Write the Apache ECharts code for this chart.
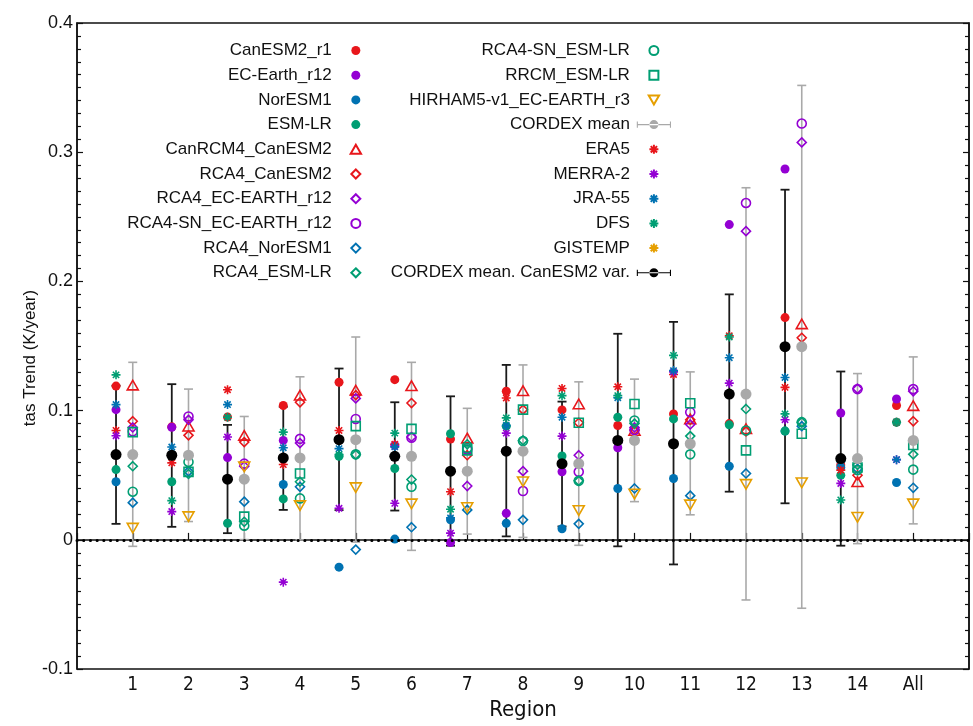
<!DOCTYPE html>
<html>
<head>
<meta charset="utf-8">
<script src="https://cdn.jsdelivr.net/npm/echarts@6/dist/echarts.min.js"></script>
<style>
html, body { margin: 0; padding: 0; background: #fff; }
#chart-01 { width: 973px; height: 726px; }
</style>
</head>
<body>
<div id="chart-01"></div>
<script>
// regions 1..14 + All
var regions = ['1', '2', '3', '4', '5', '6', '7', '8', '9', '10', '11', '12', '13', '14', 'All'];

// GCMs (left column)
var canesm2 = [0.119, 0.0875, 0.095, 0.104, 0.122, 0.124, 0.078, 0.115, 0.1006, 0.0885, 0.0975, 0.090, 0.172, 0.058, 0.104];
var ecearth = [0.1008, 0.0872, 0.0637, 0.077, 0.0775, 0.073, -0.002, 0.0206, 0.0527, 0.0713, 0.0744, 0.244, 0.287, 0.0982, 0.109];
var noresm1 = [0.045, 0.066, 0.047, 0.0429, -0.0211, 0.0006, 0.0155, 0.0129, 0.0086, 0.0398, 0.0475, 0.057, 0.0842, 0.056, 0.0444];
var esmlr = [0.0544, 0.045, 0.0129, 0.0317, 0.0647, 0.0552, 0.0821, 0.088, 0.0649, 0.0949, 0.0936, 0.089, 0.0842, 0.050, 0.091];

// RCMs (right column)
var canrcm4 = [0.1198, 0.088, 0.0809, 0.112, 0.1159, 0.1193, 0.0788, 0.1154, 0.1052, 0.0847, 0.0936, 0.086, 0.1672, 0.045, 0.1039];
var rca4Can = [0.0918, 0.0809, 0.0757, 0.1065, 0.112, 0.1059, 0.0655, 0.1008, 0.0906, 0.085, 0.093, 0.084, 0.1564, 0.050, 0.0918];
var rca4Ec = [0.087, 0.0929, 0.057, 0.0749, 0.1095, 0.0796, 0.0417, 0.0532, 0.0655, 0.087, 0.0893, 0.2389, 0.3076, 0.117, 0.115];
var rca4snEc = [0.084, 0.0955, 0.059, 0.0782, 0.0936, 0.079, 0.070, 0.0378, 0.0527, 0.085, 0.0988, 0.2607, 0.3222, 0.1167, 0.1167];
var rca4Nor = [0.0288, 0.053, 0.0296, 0.0411, -0.0075, 0.0098, 0.0232, 0.0155, 0.0124, 0.0398, 0.0342, 0.0514, 0.088, 0.055, 0.0403];
var rca4Esm = [0.057, 0.051, 0.014, 0.045, 0.066, 0.0467, 0.074, 0.077, 0.0457, 0.090, 0.0803, 0.1013, 0.0911, 0.058, 0.0662];
var rca4snEsm = [0.0373, 0.0603, 0.011, 0.0321, 0.0662, 0.0411, 0.071, 0.0765, 0.0457, 0.0924, 0.0662, 0.0847, 0.0911, 0.054, 0.0544];
var rrcmEsm = [0.0834, 0.0526, 0.018, 0.0514, 0.088, 0.0859, 0.0693, 0.1008, 0.0906, 0.1052, 0.1057, 0.0693, 0.0821, 0.056, 0.0734];
var hirham = [0.0091, 0.018, 0.0565, 0.0265, 0.0404, 0.0278, 0.025, 0.045, 0.0227, 0.0355, 0.0271, 0.0429, 0.0442, 0.0175, 0.0278];

// reanalyses / observations (left column)
var era5 = [0.0847, 0.0596, 0.1162, 0.0583, 0.0847, 0.074, 0.0373, 0.1098, 0.1172, 0.1185, 0.128, 0.158, 0.118, 0.054, 0.0911];
var merra2 = [0.0806, 0.0219, 0.0796, -0.0327, 0.0245, 0.0283, 0.0052, 0.0826, 0.0803, 0.075, 0.130, 0.1213, 0.093, 0.0437, 0.0621];
var jra55 = [0.1047, 0.0719, 0.1047, 0.0713, 0.0706, 0.072, 0.017, 0.0885, 0.0949, 0.110, 0.131, 0.141, 0.1257, 0.0605, 0.0621];
var dfs = [0.1277, 0.0304, 0.0949, 0.0834, 0.066, 0.0826, 0.0237, 0.0944, 0.1116, 0.1116, 0.1428, 0.157, 0.0975, 0.0309, 0.0911];
var gistemp = [null, null, null, null, null, null, null, null, null, null, null, null, null, null, null];

// CORDEX mean (grey, right column) with range
var cordexMean = [0.066, 0.0655, 0.047, 0.0634, 0.0775, 0.0647, 0.0532, 0.0686, 0.059, 0.077, 0.0744, 0.1128, 0.1495, 0.0629, 0.077];
var cordexLow = [-0.005, 0.0142, 0.0002, 0.000, -0.0017, -0.0081, 0.0045, 0.0019, -0.0042, 0.0296, 0.0194, -0.0465, -0.0529, -0.0029, 0.0124];
var cordexHigh = [0.1374, 0.1167, 0.0955, 0.1262, 0.157, 0.1374, 0.1018, 0.1354, 0.1223, 0.1244, 0.130, 0.2725, 0.3517, 0.1287, 0.1416];

// CORDEX mean, CanESM2 variability (black, left column)
var canVarMean = [0.066, 0.0655, 0.047, 0.0634, 0.0775, 0.0647, 0.0532, 0.0686, 0.059, 0.077, 0.0744, 0.1128, 0.1495, 0.0629, null];
var canVarLow = [0.0124, 0.0101, 0.0052, 0.0232, 0.023, 0.0227, -0.0045, 0.0027, 0.0104, -0.005, -0.019, 0.0373, 0.0283, -0.0045, null];
var canVarHigh = [0.1193, 0.1205, 0.089, 0.103, 0.1326, 0.1065, 0.1111, 0.1354, 0.107, 0.1595, 0.1687, 0.190, 0.271, 0.1303, null];

var RED = '#e8161b', PURPLE = '#9400d3', BLUE = '#0072b2', GREEN = '#009e73', ORANGE = '#e69f00', GREY = '#a9a9a9';
var LEFT = -0.3, RIGHT = 0;
// marker shapes as paths so the legend keeps their aspect
var STAR = 'path://M5,0L5,10M0,5L10,5M1.5,1.5L8.5,8.5M1.5,8.5L8.5,1.5';
var UP = 'path://M5,0L10,8.7L0,8.7Z';
var DOWN = 'path://M0,0L10,0L5,8.7Z';
var DIAMOND = 'path://M5,0L10,5L5,10L0,5Z';
var SQUARE = 'path://M0,0L10,0L10,10L0,10Z';
var RING = 'path://M0,5a5,5 0 1,0 10,0a5,5 0 1,0 -10,0Z';
var BAR_ICON = 'path://M0,4.4h38v1.2h-38zM0,1.5h1.2v7h-1.2zM36.8,1.5h1.2v7h-1.2zM14,5a5,5 0 1,0 10,0a5,5 0 1,0 -10,0z';

function pts(arr, dx) {
    var out = [];
    arr.forEach(function (v, i) {
        if (v != null) out.push([i + 1 + dx, v]);
    });
    return out;
}

function filled(name, arr, color, size, dx) {
    return {
        name: name, type: 'scatter', symbol: 'circle', symbolSize: size,
        itemStyle: { color: color, opacity: 1 },
        data: pts(arr, dx)
    };
}

function open(name, arr, color, symbol, size, dx) {
    return {
        name: name, type: 'scatter', symbol: symbol, symbolSize: size, symbolKeepAspect: true,
        itemStyle: { color: 'rgba(0,0,0,0)', borderColor: color, borderWidth: 1.6, opacity: 1 },
        data: pts(arr, dx)
    };
}

function bars(name, lo, hi, dx, color, width, cap) {
    var d = [];
    lo.forEach(function (v, i) {
        if (v != null) d.push([i + 1 + dx, v, hi[i]]);
    });
    return {
        name: name, type: 'custom', silent: true,
        encode: { x: 0, y: [1, 2] },
        renderItem: function (params, api) {
            var a = api.coord([api.value(0), api.value(1)]);
            var b = api.coord([api.value(0), api.value(2)]);
            var st = { stroke: color, lineWidth: width };
            return {
                type: 'group',
                children: [
                    { type: 'line', shape: { x1: a[0], y1: a[1], x2: b[0], y2: b[1] }, style: st },
                    { type: 'line', shape: { x1: a[0] - cap, y1: a[1], x2: a[0] + cap, y2: a[1] }, style: st },
                    { type: 'line', shape: { x1: b[0] - cap, y1: b[1], x2: b[0] + cap, y2: b[1] }, style: st }
                ]
            };
        },
        data: d
    };
}

var myChart01 = echarts.init(document.getElementById('chart-01'));

var axisCommon = {
    min: -0.1, max: 0.4, interval: 0.1,
    axisLine: { show: true, lineStyle: { color: '#111', width: 1.5 } },
    axisTick: { show: true, inside: true, length: 6, lineStyle: { color: '#111', width: 1.2 } },
    minorTick: { show: true, splitNumber: 10, length: 4, lineStyle: { color: '#111', width: 1.2 } },
    splitLine: { show: false }
};

var legendText = { fontSize: 17, color: '#111', fontFamily: 'Liberation Sans, Arial, sans-serif', lineHeight: 17 };

option01 = {
    backgroundColor: '#fff',
    animation: false,
    grid: { left: 77, right: 4, top: 23, bottom: 53, show: true, borderColor: '#111', borderWidth: 1.5 },
    legend: [
        {
            orient: 'vertical', align: 'right', right: 611, top: 42, padding: 0,
            itemWidth: 38, itemHeight: 9, itemGap: 7.7, selectedMode: false, symbolKeepAspect: true,
            textStyle: legendText,
            data: ['CanESM2_r1', 'EC-Earth_r12', 'NorESM1', 'ESM-LR', 'CanRCM4_CanESM2', 'RCA4_CanESM2',
                'RCA4_EC-EARTH_r12', 'RCA4-SN_EC-EARTH_r12', 'RCA4_NorESM1', 'RCA4_ESM-LR']
        },
        {
            orient: 'vertical', align: 'right', right: 302, top: 42, padding: 0,
            itemWidth: 38, itemHeight: 9, itemGap: 7.7, selectedMode: false, symbolKeepAspect: true,
            textStyle: legendText,
            data: ['RCA4-SN_ESM-LR', 'RRCM_ESM-LR', 'HIRHAM5-v1_EC-EARTH_r3',
                { name: 'CORDEX mean', icon: BAR_ICON }, 'ERA5', 'MERRA-2', 'JRA-55', 'DFS', 'GISTEMP',
                { name: 'CORDEX mean. CanESM2 var.', icon: BAR_ICON }]
        }
    ],
    xAxis: [
        {
            type: 'value', min: 0, max: 16, interval: 1,
            name: 'Region', nameLocation: 'middle', nameGap: 28,
            nameTextStyle: { fontSize: 22, color: '#111', fontFamily: 'Liberation Sans Narrow, DejaVu Sans Condensed, Arial, sans-serif' },
            axisLine: { show: true, lineStyle: { color: '#111', width: 1.5 } },
            axisTick: { show: true, inside: true, length: 7, lineStyle: { color: '#111', width: 1.2 } },
            axisLabel: {
                fontSize: 19, color: '#111', margin: 6,
                fontFamily: 'Liberation Sans Narrow, DejaVu Sans Condensed, Arial, sans-serif',
                formatter: function (v) {
                    var i = Math.round(v) - 1;
                    return (i >= 0 && i < regions.length) ? regions[i] : '';
                }
            },
            splitLine: { show: false }
        }
    ],
    yAxis: [
        Object.assign({}, axisCommon, {
            type: 'value', position: 'left',
            name: 'tas Trend (K/year)', nameLocation: 'middle', nameGap: 38, nameMoveOverlap: false,
            nameTextStyle: { fontSize: 17, color: '#111', fontFamily: 'Liberation Sans, Arial, sans-serif', padding: [0, 24, 0, 0] },
            axisLabel: { fontSize: 18, color: '#111', margin: 4, fontFamily: 'Liberation Sans, Arial, sans-serif' }
        }),
        Object.assign({}, axisCommon, {
            type: 'value', position: 'right',
            axisLabel: { show: false }
        })
    ],
    series: [
        bars('cordexRange', cordexLow, cordexHigh, RIGHT, GREY, 1.6, 4.5),
        bars('canVarRange', canVarLow, canVarHigh, LEFT, '#1a1a1a', 1.8, 4.5),
        {
            name: 'zero', type: 'line', data: [], silent: true,
            markLine: {
                silent: true, symbol: 'none', label: { show: false },
                lineStyle: { color: '#000', type: [0.1, 6.6], cap: 'round', width: 3 },
                data: [{ yAxis: 0 }]
            }
        },
        filled('CanESM2_r1', canesm2, RED, 9, LEFT),
        filled('EC-Earth_r12', ecearth, PURPLE, 9, LEFT),
        filled('NorESM1', noresm1, BLUE, 9, LEFT),
        filled('ESM-LR', esmlr, GREEN, 9, LEFT),
        open('CanRCM4_CanESM2', canrcm4, RED, UP, 11, RIGHT),
        open('RCA4_CanESM2', rca4Can, RED, DIAMOND, 9, RIGHT),
        open('RCA4_EC-EARTH_r12', rca4Ec, PURPLE, DIAMOND, 9, RIGHT),
        open('RCA4-SN_EC-EARTH_r12', rca4snEc, PURPLE, RING, 9, RIGHT),
        open('RCA4_NorESM1', rca4Nor, BLUE, DIAMOND, 9, RIGHT),
        open('RCA4_ESM-LR', rca4Esm, GREEN, DIAMOND, 9, RIGHT),
        open('RCA4-SN_ESM-LR', rca4snEsm, GREEN, RING, 9, RIGHT),
        open('RRCM_ESM-LR', rrcmEsm, GREEN, SQUARE, 9, RIGHT),
        open('HIRHAM5-v1_EC-EARTH_r3', hirham, ORANGE, DOWN, 11, RIGHT),
        open('ERA5', era5, RED, STAR, 9, LEFT),
        open('MERRA-2', merra2, PURPLE, STAR, 9, LEFT),
        open('JRA-55', jra55, BLUE, STAR, 9, LEFT),
        open('DFS', dfs, GREEN, STAR, 9, LEFT),
        open('GISTEMP', gistemp, ORANGE, STAR, 9, LEFT),
        filled('CORDEX mean', cordexMean, GREY, 11, RIGHT),
        filled('CORDEX mean. CanESM2 var.', canVarMean, '#000', 11, LEFT)
    ]
};
myChart01.setOption(option01);
</script>
</body>
</html>
